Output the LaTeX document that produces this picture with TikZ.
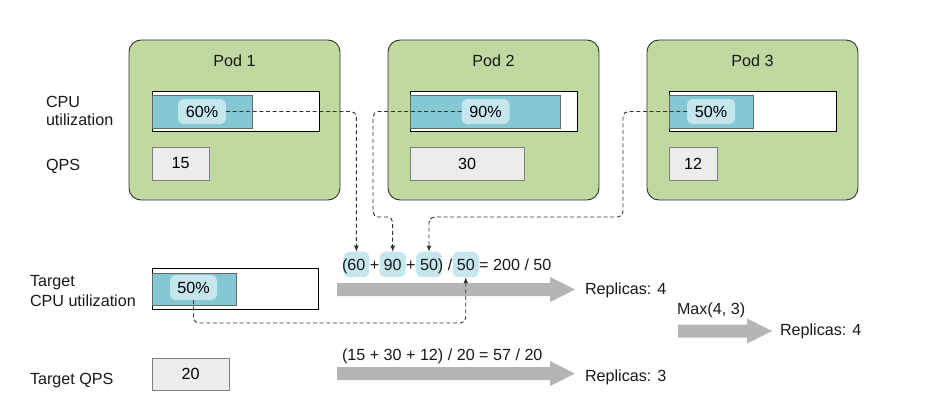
\documentclass[tikz,border=0pt]{standalone}
\usepackage{fontspec}
\setmainfont{Liberation Sans}
\usetikzlibrary{arrows.meta,backgrounds,fit}
\definecolor{podgreen}{HTML}{BFD9A0}
\definecolor{barblue}{HTML}{84C8D4}
\definecolor{pillc}{HTML}{C5E6EC}
\definecolor{qpsfill}{HTML}{EDECEB}
\definecolor{qpsline}{HTML}{808080}
\definecolor{garrowc}{HTML}{B5B5B5}
\definecolor{dline}{HTML}{333333}
\newcommand\pxu{0.75pt}
\newcommand\garr[3]{\fill[garrowc] (#1,#3-6.5) -- (#2-25,#3-6.5) -- (#2-25,#3-12.5) -- (#2,#3) -- (#2-25,#3+12.5) -- (#2-25,#3+6.5) -- (#1,#3+6.5) -- cycle;}
\begin{document}
\begin{tikzpicture}[x=0.75pt,y=-0.75pt,
  font=\fontsize{12.1}{14}\selectfont,
  every node/.style={outer sep=0pt},
  txt/.style={inner sep=0pt, anchor=base west, text=black!90},
  pod/.style={draw=black!80, fill=podgreen, rounded corners=9pt, line width=0.7pt, anchor=north west, minimum width=211*\pxu, minimum height=160*\pxu, inner sep=0pt},
  barout/.style={draw=black, fill=white, line width=0.7pt, anchor=north west, minimum height=40*\pxu, inner sep=0pt},
  barin/.style={draw=black!60, fill=barblue, line width=0.6pt, anchor=north west, minimum height=33*\pxu, inner sep=0pt},
  pill/.style={fill=pillc, rounded corners=4pt, minimum width=48*\pxu, minimum height=25*\pxu, inner sep=0pt},
  qps/.style={draw=qpsline, fill=qpsfill, line width=0.7pt, minimum height=33*\pxu, inner sep=0pt},
  fpill/.style={fill=pillc, rounded corners=4pt, inner xsep=4*\pxu, inner ysep=7*\pxu},
  dconn/.style={draw=dline, line width=0.7pt, dash pattern=on 3pt off 2pt, rounded corners=4pt, -{Latex[length=4.5pt,width=3.6pt]}}
]
\useasboundingbox (0,0) rectangle (944,410);

% Pods
\node[pod] (pod1) at (129,40) {};
\node[pod] (pod2) at (388,40) {};
\node[pod] (pod3) at (647,40) {};
\node[txt, anchor=base] (pod1t) at (234.5,66) {Pod 1};
\node[txt, anchor=base] (pod2t) at (493.5,66) {Pod 2};
\node[txt, anchor=base] (pod3t) at (752.5,66) {Pod 3};

% CPU bars
\node[barout, minimum width=167*\pxu] (bar1) at (152,91) {};
\node[barin, minimum width=100*\pxu] (fill1) at (152,95) {};
\node[pill] (p60) at (202,111.5) {60\%};
\node[barout, minimum width=167*\pxu] (bar2) at (410,91) {};
\node[barin, minimum width=150*\pxu] (fill2) at (410,95) {};
\node[pill] (p90) at (485.5,111.5) {90\%};
\node[barout, minimum width=167*\pxu] (bar3) at (669,91) {};
\node[barin, minimum width=84*\pxu] (fill3) at (669,95) {};
\node[pill] (p50c) at (711,111.5) {50\%};

% QPS boxes
\node[qps, minimum width=57*\pxu, anchor=north west] (q1) at (152,147) {15};
\node[qps, minimum width=114*\pxu, anchor=north west] (q2) at (410,147) {30};
\node[qps, minimum width=48*\pxu, anchor=north west] (q3) at (669,147) {12};

% Left labels
\node[txt] (cpul1) at (46,107) {CPU};
\node[txt] (cpul2) at (46,125) {utilization};
\node[txt] (qpsl) at (46,170) {QPS};
\node[txt] (tcpul1) at (30,286) {Target};
\node[txt] (tcpul2) at (30,306) {CPU utilization};
\node[txt] (tqpsl) at (30,384) {Target QPS};

% Target CPU bar
\node[barout, minimum width=166*\pxu, minimum height=41*\pxu] (tbar) at (152,268) {};
\node[barin, minimum width=84*\pxu, minimum height=32*\pxu] (tfill) at (152,273) {};
\node[pill, minimum width=47*\pxu] (t50) at (193.5,287.5) {50\%};

% Target QPS box
\node[qps, minimum width=77*\pxu, minimum height=32*\pxu, anchor=north west] (tq) at (152,358) {20};

% Formula 1
\node[txt] (a0) at (342,270) {(};
\node[txt] (n60) at (a0.base east) {60};
\node[txt] (a1) at (n60.base east) {\ +\ \null};
\node[txt] (n90) at (a1.base east) {90};
\node[txt] (a2) at (n90.base east) {\ +\ \null};
\node[txt] (n50) at (a2.base east) {50};
\node[txt] (a3) at (n50.base east) {)\ /\ \null};
\node[txt] (nd50) at (a3.base east) {50};
\node[txt] (a4) at (nd50.base east) {\ =\ 200\ /\ 50};
\begin{scope}[on background layer]
\node[fpill, fit=(n60)] (f60) {};
\node[fpill, fit=(n90)] (f90) {};
\node[fpill, fit=(n50)] (f50) {};
\node[fpill, fit=(nd50)] (fdiv) {};
\end{scope}

% Formula 2
\node[txt] (form2) at (342,360) {(15 + 30 + 12) / 20 = 57 / 20};

% Gray arrows
\garr{337}{575}{289.5}
\garr{337}{575}{373.5}
\garr{678}{772}{331}

% Results
\node[txt] (rep1) at (585,294) {Replicas: 4};
\node[txt] (rep2) at (585,381) {Replicas: 3};
\node[txt] (maxl) at (677,314) {Max(4, 3)};
\node[txt] (rep3) at (780,335) {Replicas: 4};

% Dashed connectors
\coordinate (c2) at (373,217);
\coordinate (c3) at (623,217);
\coordinate (c4) at (0,323);
\draw[dconn] (p60.east) -| (f60.north);
\draw[dconn] (p90.west) -| (c2) -| (f90.north);
\draw[dconn] (p50c.west) -| (c3) -| (f50.north);
\draw[dconn] (t50.south) |- (fdiv.south |- c4) -- (fdiv.south);
\end{tikzpicture}
\end{document}
